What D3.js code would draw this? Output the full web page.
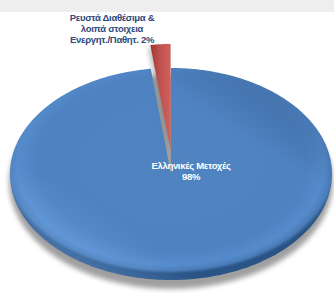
<!DOCTYPE html>
<html><head><meta charset="utf-8">
<script src="https://cdn.jsdelivr.net/npm/d3@7"></script>
<style>html,body{margin:0;padding:0;background:#fff;}svg{display:block;}</style>
</head><body>
<script>
const categories = ["Ελληνικές Μετοχές", "Ρευστά Διαθέσιμα & λοιπά στοιχεια Ενεργητ./Παθητ."];
const values = [98, 2];
const labelLines = [["Ελληνικές Μετοχές", "98%"], ["Ρευστά Διαθέσιμα &", "λοιπά στοιχεια", "Ενεργητ./Παθητ. 2%"]];
const colors = ["#4f81bd", "#c0504d"];

const W = 334, H = 293;
const cx = 171, cy = 174, rx = 161, ry = 106;
const svg = d3.select("body").append("svg").attr("width", W).attr("height", H);
const defs = svg.append("defs");

svg.append("rect").attr("x", 0).attr("y", 0).attr("width", W).attr("height", 12).attr("fill", "#eeeeee");

// scales mapping unit circle to the tilted ellipse
const sx = d3.scaleLinear().domain([-1, 1]).range([cx - rx, cx + rx]);
const sy = d3.scaleLinear().domain([-1, 1]).range([cy - ry, cy + ry]);

const pie = d3.pie().sort(null).startAngle(0).endAngle(2 * Math.PI);
const arcs = pie(values);

function slicePoints(a0, a1, dx, dy) {
  const n = Math.max(4, Math.ceil((a1 - a0) / 0.02));
  const pts = [[sx(0) + dx, sy(0) + dy]];
  d3.range(n + 1).forEach(i => {
    const a = a0 + (a1 - a0) * i / n;
    pts.push([sx(Math.sin(a)) + dx, sy(-Math.cos(a)) + dy]);
  });
  return pts;
}
const line = d3.line().curve(d3.curveLinearClosed);

// filters & gradients
const blur = defs.append("filter").attr("id", "blur").attr("x", "-10%").attr("y", "-10%").attr("width", "120%").attr("height", "130%");
blur.append("feGaussianBlur").attr("stdDeviation", 2.5);

const gBlue = defs.append("radialGradient").attr("id", "gBlue")
  .attr("cx", "50%").attr("cy", "45%").attr("r", "52%");
[["0%", "#5083c0"], ["80%", "#4e82c2"], ["92%", "#558bcc"], ["97%", "#4a7cb8"], ["100%", "#2a5485"]]
  .forEach(s => gBlue.append("stop").attr("offset", s[0]).attr("stop-color", s[1]));

const gHi = defs.append("linearGradient").attr("id", "gHi").attr("x1", "0").attr("y1", "1").attr("x2", "1").attr("y2", "0");
[["0%", "#8fc0ff", 0.55], ["30%", "#8fc0ff", 0.0], ["70%", "#000", 0.0], ["100%", "#0a2a55", 0.3]]
  .forEach(s => gHi.append("stop").attr("offset", s[0]).attr("stop-color", s[1]).attr("stop-opacity", s[2]));

const gRed = defs.append("linearGradient").attr("id", "gRed").attr("x1", "0").attr("y1", "0").attr("x2", "1").attr("y2", "0");
[["0%", "#9e3532"], ["45%", "#c0504d"], ["100%", "#d0605c"]]
  .forEach(s => gRed.append("stop").attr("offset", s[0]).attr("stop-color", s[1]));

// shadow
svg.append("ellipse").attr("cx", cx).attr("cy", cy + 8).attr("rx", rx + 1).attr("ry", ry + 1)
  .attr("fill", "#8f8f8f").attr("opacity", 0.85).attr("filter", "url(#blur)");

// explode offsets
const explode = [0, 24];
arcs.forEach((d, i) => {
  const mid = (d.startAngle + d.endAngle) / 2;
  const ox = Math.sin(mid) * explode[i] * 0.3;
  const oy = -Math.cos(mid) * explode[i];
  const pts = slicePoints(d.startAngle, d.endAngle, ox, oy);
  if (i === 1) {
    svg.append("path").attr("d", line(slicePoints(d.startAngle, d.endAngle, ox - 2, oy + 3)))
      .attr("fill", "#777").attr("opacity", 0.5).attr("filter", "url(#blur)");
  }
  svg.append("path").attr("d", line(pts)).attr("fill", i === 0 ? "url(#gBlue)" : "url(#gRed)");
  if (i === 0) svg.append("path").attr("d", line(pts)).attr("fill", "url(#gHi)");
});

// labels
const lbl = svg.append("g").attr("font-family", "'Liberation Sans', Arial, sans-serif")
  .attr("font-weight", "bold").attr("font-size", 9.5).attr("text-anchor", "middle").attr("letter-spacing", -0.3);
lbl.selectAll("text.l0").data(labelLines[0]).join("text").attr("class", "l0")
  .attr("fill", "#ffffff").attr("x", 191).attr("y", (d, i) => 169 + i * 11).text(d => d);
lbl.selectAll("text.l1").data(labelLines[1]).join("text").attr("class", "l1")
  .attr("fill", "#2c4a7c").attr("x", 112).attr("y", (d, i) => 21 + i * 11).text(d => d);
</script>
</body></html>
